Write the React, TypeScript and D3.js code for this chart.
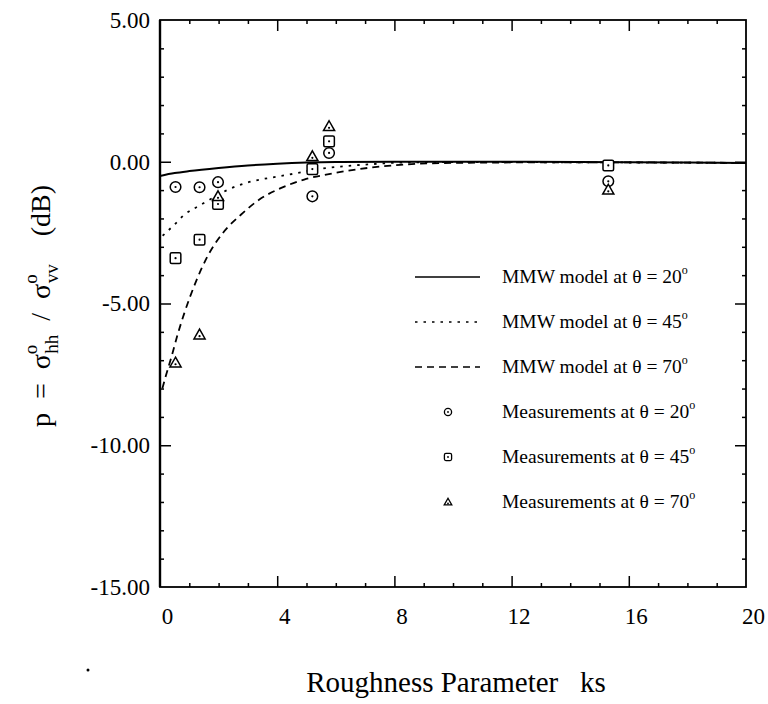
import { useEffect, useRef } from "react"
import * as d3 from "d3"

// measured points (ks of each surface)
const ksMeas = [0.53, 1.35, 1.98, 5.2, 5.77, 15.3]
const meas20 = [-0.89, -0.9, -0.72, -1.22, 0.31, -0.69]
const meas45 = [-3.4, -2.75, -1.49, -0.26, 0.72, -0.13]
const meas70 = [-7.09, -6.1, -1.22, 0.19, 1.25, -0.99]

// model curves
const model20Ks = [0, 0.5, 1, 2, 3, 4, 5, 6, 8, 12, 16, 20]
const model20 = [-0.5, -0.4, -0.33, -0.22, -0.13, -0.07, -0.03, -0.01, 0, 0, -0.02, -0.04]
const model45Ks = [0.09, 0.49, 0.83, 1.34, 1.79, 2.31, 2.99, 3.9, 4.69, 5.26, 6.17, 7.3, 8.2, 10, 14, 20]
const model45 = [-2.61, -2.22, -1.87, -1.55, -1.28, -0.99, -0.73, -0.54, -0.4, -0.28, -0.17, -0.08, -0.03, -0.01, -0.02, -0.04]
const model70Ks = [0.08, 0.2, 0.4, 0.6, 0.83, 1.23, 1.62, 2.14, 2.76, 3.38, 4.12, 4.92, 5.94, 7.08, 8.2, 10, 14, 20]
const model70 = [-8.0, -7.55, -6.85, -6.1, -5.34, -4.22, -3.34, -2.52, -1.87, -1.34, -0.93, -0.63, -0.4, -0.22, -0.11, -0.04, -0.02, -0.04]

const xTicks = [0, 4, 8, 12, 16, 20]
const yTicks = [5, 0, -5, -10, -15]

const legendLabels = ["MMW model at θ = 20", "MMW model at θ = 45", "MMW model at θ = 70",
  "Measurements at θ = 20", "Measurements at θ = 45", "Measurements at θ = 70"]

const FONT = "Liberation Serif, DejaVu Serif, serif"

export default function App() {
  const svgRef = useRef<SVGSVGElement>(null)

  useEffect(() => {
    if (!svgRef.current) return
    const root = d3.select(svgRef.current)
    root.selectAll("*").remove()

    const left = 160, right = 746, top = 20, bottom = 587
    const x = d3.scaleLinear().domain([0, 20]).range([left, right])
    const y = d3.scaleLinear().domain([-15, 5]).range([bottom, top])

    const svg = root.append("g").attr("font-family", FONT).attr("fill", "#000")

    // frame
    svg.append("rect").attr("x", left).attr("y", top).attr("width", right - left).attr("height", bottom - top)
      .attr("fill", "none").attr("stroke", "#000").attr("stroke-width", 1.8)
    svg.append("line").attr("x1", left).attr("x2", left).attr("y1", top).attr("y2", bottom)
      .attr("stroke", "#000").attr("stroke-width", 2.4)

    const minorX = d3.range(0, 21, 1).filter((d) => d % 4 !== 0)
    const minorY = d3.range(-15, 6, 1).filter((d) => d % 5 !== 0)

    const addAxis = (axis: any, tx: number, ty: number) => {
      const g = svg.append("g").attr("transform", `translate(${tx},${ty})`).call(axis)
      g.attr("font-family", FONT).attr("font-size", 23)
      g.select(".domain").remove()
      g.selectAll("line").attr("stroke", "#000").attr("stroke-width", 1.5)
      g.selectAll("text").style("font-family", FONT).style("font-size", "23px")
      return g
    }

    // bottom
    const xb = addAxis(d3.axisBottom(x).tickValues(xTicks).tickSizeInner(-11).tickPadding(21)
      .tickFormat((d: any) => String(d)), 0, bottom)
    xb.selectAll("text").attr("dx", 7)
    xb.selectAll(".tick").filter((d: any) => d === 0 || d === 20).select("line").remove()
    addAxis(d3.axisBottom(x).tickValues(minorX).tickSizeInner(-4).tickFormat(() => ""), 0, bottom)
    // top
    addAxis(d3.axisTop(x).tickValues(xTicks.slice(1, -1)).tickSizeInner(-11).tickFormat(() => ""), 0, top)
    addAxis(d3.axisTop(x).tickValues(minorX).tickSizeInner(-4).tickFormat(() => ""), 0, top)
    // left
    const yl = addAxis(d3.axisLeft(y).tickValues(yTicks).tickSizeInner(-11).tickPadding(10)
      .tickFormat((d: any) => (+d).toFixed(2)), left, 0)
    yl.selectAll(".tick").filter((d: any) => d === 5 || d === -15).select("line").remove()
    addAxis(d3.axisLeft(y).tickValues(minorY).tickSizeInner(-4).tickFormat(() => ""), left, 0)
    // right
    addAxis(d3.axisRight(y).tickValues(yTicks.slice(1, -1)).tickSizeInner(-11).tickFormat(() => ""), right, 0)
    addAxis(d3.axisRight(y).tickValues(minorY).tickSizeInner(-4).tickFormat(() => ""), right, 0)

    // model curves
    const line = d3.line<[number, number]>().x((d) => x(d[0])).y((d) => y(d[1])).curve(d3.curveMonotoneX)
    const models = [
      { ks: model20Ks, p: model20, dash: null },
      { ks: model45Ks, p: model45, dash: "2.5,6" },
      { ks: model70Ks, p: model70, dash: "7,5" },
    ]
    models.forEach((m) => {
      svg.append("path")
        .attr("d", line(m.ks.map((k, i) => [k, m.p[i]] as [number, number])))
        .attr("fill", "none").attr("stroke", "#000").attr("stroke-width", m.dash ? 1.8 : 2)
        .attr("stroke-dasharray", m.dash)
    })

    // markers
    const drawMarker = (g: any, kind: number, cx: number, cy: number, s: number) => {
      if (kind === 0) {
        g.append("circle").attr("cx", cx).attr("cy", cy).attr("r", s)
      } else if (kind === 1) {
        g.append("rect").attr("x", cx - s).attr("y", cy - s).attr("width", 2 * s).attr("height", 2 * s).attr("rx", 1.5)
      } else {
        g.append("path").attr("d", `M${cx},${cy - s * 1.05}L${cx + s * 1.05},${cy + s * 0.8}L${cx - s * 1.05},${cy + s * 0.8}Z`)
      }
      g.append("circle").attr("class", "dot").attr("cx", cx).attr("cy", cy + (kind === 2 ? 1.5 : 0)).attr("r", 1.1)
    }
    const mg = svg.append("g").attr("fill", "#fff").attr("stroke", "#000").attr("stroke-width", 1.5)
    ;[meas20, meas45, meas70].forEach((series, kind) => {
      series.forEach((p, i) => drawMarker(mg, kind, x(ksMeas[i]), y(p), 5.3))
    })
    mg.selectAll(".dot").attr("fill", "#000").attr("stroke", "none")

    // legend
    const lg = svg.append("g")
    const rowY = (i: number) => 277 + i * 45
    legendLabels.forEach((label, i) => {
      if (i < 3) {
        lg.append("line").attr("x1", 415).attr("x2", 480).attr("y1", rowY(i)).attr("y2", rowY(i))
          .attr("stroke", "#000").attr("stroke-width", 1.5)
          .attr("stroke-dasharray", models[i].dash)
      } else {
        const g = lg.append("g").attr("fill", "#fff").attr("stroke", "#000").attr("stroke-width", 1.3)
        drawMarker(g, i - 3, 448, rowY(i), 3.6)
        g.selectAll(".dot").attr("fill", "#000").attr("stroke", "none").attr("r", 0.9)
      }
      const t = lg.append("text").attr("x", 502).attr("y", rowY(i) + 6).attr("font-size", 19.5)
      t.append("tspan").text(label)
      t.append("tspan").attr("font-size", 12).attr("dy", -9).text("o")
    })

    // x title
    svg.append("text").attr("x", 456).attr("y", 692).attr("text-anchor", "middle")
      .attr("font-size", 29).style("white-space", "pre").text("Roughness Parameter   ks")

    // y title
    const yt = svg.append("text").attr("transform", "translate(50,306) rotate(-90)")
      .attr("text-anchor", "middle").attr("font-size", 28).style("white-space", "pre")
    yt.append("tspan").text("p  =  σ")
    yt.append("tspan").attr("font-size", 19).attr("dy", -13).text("o")
    yt.append("tspan").attr("font-size", 19).attr("dx", -9).attr("dy", 21).text("hh")
    yt.append("tspan").attr("dy", -8).text("  /  σ")
    yt.append("tspan").attr("font-size", 19).attr("dy", -13).text("o")
    yt.append("tspan").attr("font-size", 19).attr("dx", -9).attr("dy", 21).text("vv")
    yt.append("tspan").attr("dy", -8).text("    (dB)")

    // stray scan dot
    svg.append("circle").attr("cx", 88).attr("cy", 670).attr("r", 1.5)
  }, [])

  return (
    <svg ref={svgRef} width={768} height={704}
      style={{ position: "absolute", left: 0, top: 0, background: "#fff" }} />
  )
}
